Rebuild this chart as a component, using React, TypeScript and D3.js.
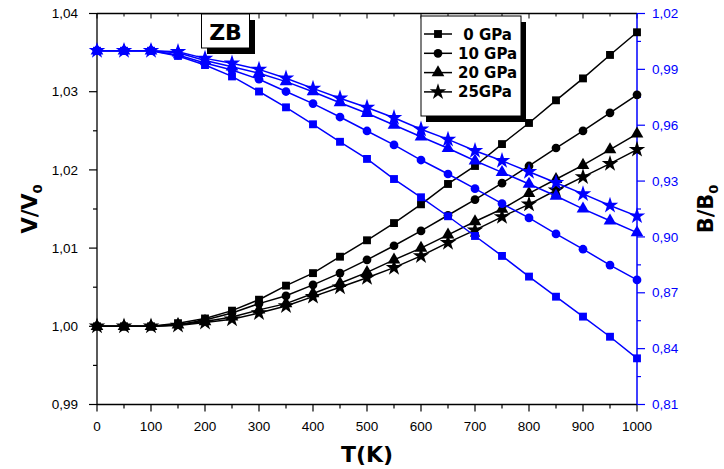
import React from "react";
import * as d3 from "d3";

const temps = [0, 50, 100, 150, 200, 250, 300, 350, 400, 450, 500, 550, 600, 650, 700, 750, 800, 850, 900, 950, 1000];

// V/V0 (left axis)
const v0GPa = [1.0, 1.0, 1.0, 1.0004, 1.001, 1.002, 1.0034, 1.0052, 1.0068, 1.0089, 1.011, 1.0132, 1.0156, 1.0182, 1.0205, 1.0233, 1.026, 1.0289, 1.0317, 1.0347, 1.0376];
const v10GPa = [1.0, 1.0, 1.0, 1.0002, 1.0008, 1.0017, 1.0029, 1.0039, 1.0053, 1.0068, 1.0085, 1.0103, 1.0122, 1.0142, 1.0162, 1.0183, 1.0205, 1.0228, 1.025, 1.0273, 1.0296];
const v20GPa = [1.0, 1.0, 1.0, 1.0002, 1.0006, 1.0012, 1.0021, 1.0029, 1.0042, 1.0055, 1.0069, 1.0085, 1.01, 1.0117, 1.0134, 1.015, 1.017, 1.0188, 1.0206, 1.0226, 1.0246];
const v25GPa = [1.0, 1.0, 1.0, 1.0001, 1.0005, 1.0009, 1.0017, 1.0026, 1.0038, 1.005, 1.0062, 1.0075, 1.009, 1.0107, 1.0123, 1.014, 1.0156, 1.0174, 1.0191, 1.0208, 1.0226];

// B/B0 (right axis)
const b0GPa = [1.0, 1.0, 1.0, 0.9972, 0.9923, 0.9862, 0.9781, 0.9696, 0.9605, 0.9511, 0.9419, 0.9311, 0.9213, 0.9111, 0.9005, 0.8898, 0.8787, 0.8679, 0.8572, 0.8464, 0.8348];
const b10GPa = [1.0, 1.0, 1.0, 0.9977, 0.9934, 0.9897, 0.9847, 0.9781, 0.9716, 0.9644, 0.9569, 0.9494, 0.9413, 0.9338, 0.9259, 0.9179, 0.9102, 0.9016, 0.8934, 0.8849, 0.8769];
const b20GPa = [1.0, 1.0, 1.0, 0.9989, 0.9948, 0.9914, 0.9879, 0.9834, 0.978, 0.9721, 0.9664, 0.9601, 0.9538, 0.9476, 0.9409, 0.9347, 0.9284, 0.922, 0.9151, 0.9087, 0.9023];
const b25GPa = [1.0, 1.0, 1.0, 0.9995, 0.9959, 0.9933, 0.99, 0.9852, 0.9798, 0.9745, 0.9695, 0.964, 0.9578, 0.9524, 0.9463, 0.9409, 0.935, 0.9291, 0.9231, 0.9169, 0.9112];

const seriesLabels = [" 0 GPa", "10 GPa", "20 GPa", "25GPa"];
const xTicks = [0, 100, 200, 300, 400, 500, 600, 700, 800, 900, 1000];
const xMinor = [50, 150, 250, 350, 450, 550, 650, 750, 850, 950];
const leftTicks = [0.99, 1.0, 1.01, 1.02, 1.03, 1.04];
const leftMinor = [0.995, 1.005, 1.015, 1.025, 1.035];
const rightTicks = [0.81, 0.84, 0.87, 0.9, 0.93, 0.96, 0.99, 1.02];
const rightMinor = [0.825, 0.855, 0.885, 0.915, 0.945, 0.975, 1.005];

const BLUE = "#0000ff";
const W = 724, H = 469;
const L = 97, R = 637, T0 = 13.5, B0 = 404.5;

const locale = d3.formatLocale({ decimal: ",", thousands: ".", grouping: [3], currency: ["", ""] });
const fmt2 = locale.format(".2f");

const symTypes = [d3.symbolSquare, d3.symbolCircle, d3.symbolTriangle, d3.symbolStar];
const symSizes = [62, 60, 70, 85];

export default function App() {
  const x = d3.scaleLinear().domain([0, 1000]).range([L, R]);
  const yL = d3.scaleLinear().domain([0.99, 1.04]).range([B0, T0]);
  const yR = d3.scaleLinear().domain([0.81, 1.02]).range([B0, T0]);

  const vSeries = [v0GPa, v10GPa, v20GPa, v25GPa];
  const bSeries = [b0GPa, b10GPa, b20GPa, b25GPa];

  const lineL = d3.line<number>().x((_, i) => x(temps[i])).y((d) => yL(d));
  const lineR = d3.line<number>().x((_, i) => x(temps[i])).y((d) => yR(d));
  const sym = (i: number) => d3.symbol().type(symTypes[i]).size(symSizes[i])() as string;

  const font = "'Liberation Sans', Arial, sans-serif";
  const boldFont = "'DejaVu Sans', 'Liberation Sans', sans-serif";

  const legX = 421, legY = 16, legW = 100, legH = 100;

  return (
    <div style={{ position: "fixed", left: 0, top: 0, width: W, height: H, background: "#fff" }}>
      <svg width={W} height={H} style={{ display: "block" }} fontFamily={font}>
        <rect x={0} y={0} width={W} height={H} fill="#fff" />

        {/* top axis */}
        <line x1={L} x2={R} y1={T0} y2={T0} stroke="#000" strokeWidth={1.3} />
        {xTicks.map((t) => (
          <line key={"tt" + t} x1={x(t)} x2={x(t)} y1={T0} y2={T0 + 5} stroke="#000" strokeWidth={1} />
        ))}
        {xMinor.map((t) => (
          <line key={"tm" + t} x1={x(t)} x2={x(t)} y1={T0} y2={T0 + 3} stroke="#000" strokeWidth={1} />
        ))}

        {/* bottom axis */}
        <line x1={L} x2={R} y1={B0} y2={B0} stroke="#000" strokeWidth={1.3} />
        {xTicks.map((t) => (
          <g key={"bt" + t}>
            <line x1={x(t)} x2={x(t)} y1={B0} y2={B0 + 7} stroke="#000" strokeWidth={1.2} />
            <text x={x(t)} y={B0 + 26} textAnchor="middle" fontSize={13.5}>{t}</text>
          </g>
        ))}
        {xMinor.map((t) => (
          <line key={"bm" + t} x1={x(t)} x2={x(t)} y1={B0} y2={B0 + 4} stroke="#000" strokeWidth={1.2} />
        ))}
        <text x={(L + R) / 2} y={462} textAnchor="middle" fontSize={22} fontWeight="bold" fontFamily={boldFont}>T(K)</text>

        {/* left axis */}
        <line x1={L} x2={L} y1={T0} y2={B0} stroke="#000" strokeWidth={1.3} />
        {leftTicks.map((t) => (
          <g key={"lt" + t}>
            <line x1={L - 8} x2={L} y1={yL(t)} y2={yL(t)} stroke="#000" strokeWidth={1.2} />
            <text x={L - 19} y={yL(t) + 4.7} textAnchor="end" fontSize={13.5}>{fmt2(t)}</text>
          </g>
        ))}
        {leftMinor.map((t) => (
          <line key={"lm" + t} x1={L - 4} x2={L} y1={yL(t)} y2={yL(t)} stroke="#000" strokeWidth={1.2} />
        ))}
        <text transform={`translate(37,${(T0 + B0) / 2}) rotate(-90)`} textAnchor="middle" fontSize={21} fontWeight="bold" fontFamily={boldFont}>
          V/V<tspan fontSize={13} dy={5}>0</tspan>
        </text>

        {/* right axis */}
        <line x1={R} x2={R} y1={T0} y2={B0} stroke={BLUE} strokeWidth={1.5} />
        {rightTicks.map((t) => (
          <g key={"rt" + t}>
            <line x1={R} x2={R + 8} y1={yR(t)} y2={yR(t)} stroke={BLUE} strokeWidth={1.2} />
            <text x={R + 15} y={yR(t) + 4.7} textAnchor="start" fontSize={13.5} fill={BLUE}>{fmt2(t)}</text>
          </g>
        ))}
        {rightMinor.map((t) => (
          <line key={"rm" + t} x1={R} x2={R + 4} y1={yR(t)} y2={yR(t)} stroke={BLUE} strokeWidth={1.2} />
        ))}
        <text transform={`translate(713,${(T0 + B0) / 2}) rotate(-90)`} textAnchor="middle" fontSize={21} fontWeight="bold" fontFamily={boldFont}>
          B/B<tspan fontSize={13} dy={5}>0</tspan>
        </text>

        {/* V/V0 series (black) */}
        {vSeries.map((s, si) => (
          <g key={"v" + si}>
            <path d={lineL(s) as string} fill="none" stroke="#000" strokeWidth={1.5} />
            {s.map((d, i) => (
              <path key={i} d={sym(si)} transform={`translate(${x(temps[i])},${yL(d)})`} fill="#000" />
            ))}
          </g>
        ))}

        {/* B/B0 series (blue) */}
        {bSeries.map((s, si) => (
          <g key={"b" + si}>
            <path d={lineR(s) as string} fill="none" stroke={BLUE} strokeWidth={1.5} />
            {s.map((d, i) => (
              <path key={i} d={sym(si)} transform={`translate(${x(temps[i])},${yR(d)})`} fill={BLUE} />
            ))}
          </g>
        ))}

        {/* ZB label */}
        <rect x={207} y={20} width={48} height={34} fill="#000" />
        <rect x={201.5} y={14} width={48} height={34} fill="#fff" stroke="#000" strokeWidth={1} />
        <text x={225.5} y={39.5} textAnchor="middle" fontSize={22} fontWeight="bold" fontFamily={boldFont}>ZB</text>

        {/* legend */}
        <rect x={legX + 5} y={legY + 6} width={legW} height={legH} fill="#000" />
        <rect x={legX} y={legY} width={legW} height={legH} fill="#fff" stroke="#000" strokeWidth={1} />
        {seriesLabels.map((lab, i) => {
          const cy = legY + 18 + i * 19.3;
          return (
            <g key={"lg" + i}>
              <line x1={legX + 3} x2={legX + 31} y1={cy} y2={cy} stroke="#000" strokeWidth={1.5} />
              <path d={sym(i)} transform={`translate(${legX + 17},${cy})`} fill="#000" />
              <text x={legX + 37} y={cy + 5.5} fontSize={15} fontWeight="bold" fontFamily={boldFont} style={{ whiteSpace: "pre" }}>{lab}</text>
            </g>
          );
        })}
      </svg>
    </div>
  );
}
